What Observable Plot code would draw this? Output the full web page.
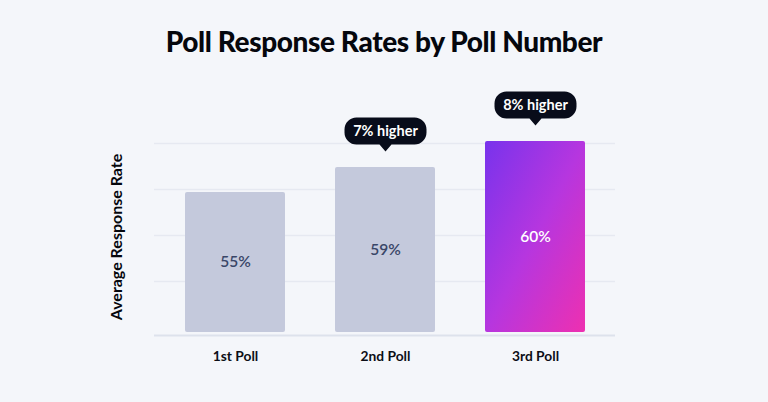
<!DOCTYPE html>
<html><head><meta charset="utf-8">
<script src="https://cdn.jsdelivr.net/npm/d3@7"></script>
<script src="https://cdn.jsdelivr.net/npm/@observablehq/plot@0.6"></script>
<style>
html,body{margin:0;padding:0;background:#f4f6fa;}
#title{height:82px;box-sizing:border-box;padding-top:24px;text-align:center;font-family:Lato,sans-serif;font-weight:900;font-size:28px;line-height:34px;color:#05070d;letter-spacing:-0.4px;white-space:nowrap;}
#chart svg{display:block;}
</style></head><body>
<div id="title"></div>
<div id="chart"></div>
<script>
const titleText = "Poll Response Rates by Poll Number";
const yLabel = "Average Response Rate";
const polls = ["1st Poll", "2nd Poll", "3rd Poll"];
const valueLabels = ["55%", "59%", "60%"];
const barHeights = [143, 168, 194];      // bar heights as drawn (chart units)
const callouts = ["", "7% higher", "8% higher"];
const highlighted = [false, false, true];
const gridValues = [54, 100, 146, 192];

document.getElementById("title").textContent = titleText;

const data = polls.map((p, i) => ({poll: p, h: barHeights[i], label: valueLabels[i], callout: callouts[i], hi: highlighted[i]}));

// callout bubble with pointer, drawn above the anchor point (bar top)
const bubble = {
  draw(ctx) {
    const w = 82, r = 12, top = -50, bottom = -23, tip = -16, tw = 6;
    const L = -w / 2, R = w / 2;
    ctx.moveTo(L + r, top);
    ctx.lineTo(R - r, top);
    ctx.arcTo(R, top, R, top + r, r);
    ctx.lineTo(R, bottom - r);
    ctx.arcTo(R, bottom, R - r, bottom, r);
    ctx.lineTo(tw, bottom);
    ctx.lineTo(0, tip);
    ctx.lineTo(-tw, bottom);
    ctx.lineTo(L + r, bottom);
    ctx.arcTo(L, bottom, L, bottom - r, r);
    ctx.lineTo(L, top + r);
    ctx.arcTo(L, top, L + r, top, r);
    ctx.closePath();
  }
};

const font = "Lato, sans-serif";
const plot = Plot.plot({
  width: 768,
  height: 320,
  marginLeft: 154,
  marginRight: 153,
  marginTop: 53,
  marginBottom: 67,
  style: {background: "transparent", fontFamily: font},
  x: {domain: polls, paddingInner: 1/3, paddingOuter: 0.2, axis: null},
  y: {domain: [0, 200], axis: null},
  marks: [
    Plot.ruleY(gridValues, {stroke: "#e6e9f1", strokeWidth: 1.3}),
    Plot.ruleY([0], {stroke: "#dde2ec", strokeWidth: 2}),
    Plot.barY(data.filter(d => !d.hi), {x: "poll", y: "h", fill: "#c4c9dc", rx: 2, insetBottom: 3}),
    Plot.barY(data.filter(d => d.hi), {x: "poll", y: "h", fill: "url(#hiGrad)", rx: 2, insetBottom: 3}),
    Plot.text(data.filter(d => !d.hi), {x: "poll", y: d => (d.h + 3) / 2, text: "label", fill: "#3a4668", fontSize: 15.5, fontWeight: 600}),
    Plot.text(data.filter(d => d.hi), {x: "poll", y: d => (d.h + 3) / 2, text: "label", fill: "#ffffff", fontSize: 15.5, fontWeight: 600}),
    Plot.dot(data.filter(d => d.callout), {x: "poll", y: "h", symbol: bubble, r: 10, fill: "#080c1a"}),
    Plot.text(data.filter(d => d.callout), {x: "poll", y: "h", dy: -36.5, text: "callout", fill: "#ffffff", fontSize: 14.5, fontWeight: 700}),
    Plot.text(data, {x: "poll", text: "poll", frameAnchor: "bottom", dy: 25.7, fill: "#0c0e16", fontSize: 13.8, fontWeight: 700}),
    Plot.text([yLabel], {frameAnchor: "left", textAnchor: "middle", rotate: -90, dx: -38, dy: 1.5, text: d => d, fill: "#05070d", fontSize: 16, fontWeight: 700})
  ]
});

const ns = "http://www.w3.org/2000/svg";
const defs = document.createElementNS(ns, "defs");
const lg = document.createElementNS(ns, "linearGradient");
lg.setAttribute("id", "hiGrad");
lg.setAttribute("x1", "0"); lg.setAttribute("y1", "0");
lg.setAttribute("x2", "1"); lg.setAttribute("y2", "1");
[["0", "#7833ec"], ["0.5", "#b636df"], ["1", "#ee30b0"]].forEach(([o, c]) => {
  const s = document.createElementNS(ns, "stop");
  s.setAttribute("offset", o);
  s.setAttribute("stop-color", c);
  lg.appendChild(s);
});
defs.appendChild(lg);
plot.insertBefore(defs, plot.firstChild);
document.getElementById("chart").appendChild(plot);
</script>
</body></html>
